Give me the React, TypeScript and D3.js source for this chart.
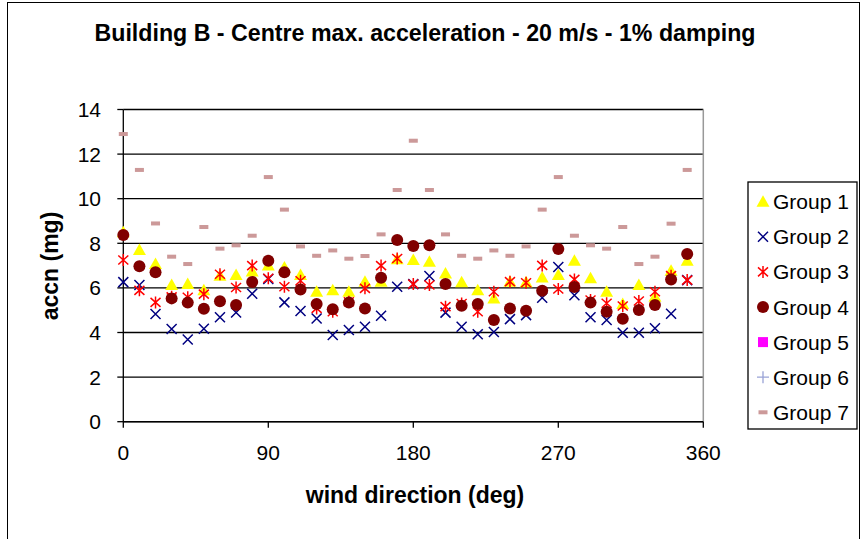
import React from "react";
import * as d3 from "d3";

const directions = [0,10,20,30,40,50,60,70,80,90,100,110,120,130,140,150,160,170,180,190,200,210,220,230,240,250,260,270,280,290,300,310,320,330,340,350];
const group1 = [8.5,7.7,7.07,6.13,6.17,5.9,6.55,6.58,6.73,7.0,6.92,6.58,5.83,5.9,5.83,6.28,6.28,7.28,7.25,7.17,6.65,6.25,5.89,5.53,6.28,6.25,6.47,6.58,7.22,6.43,5.83,5.28,6.13,5.6,6.77,7.22];
const group2 = [6.26,6.13,4.83,4.16,3.69,4.17,4.68,4.9,5.74,6.4,5.35,4.96,4.63,3.89,4.11,4.26,4.75,6.05,6.17,6.53,4.89,4.26,3.92,4.02,4.6,4.78,5.56,6.94,5.67,4.68,4.56,3.99,3.99,4.19,4.84,6.35];
const group3 = [7.25,5.89,5.35,5.6,5.58,5.72,6.61,6.02,7.0,6.43,6.05,6.32,5.08,4.93,5.38,5.98,7.0,7.32,6.17,6.13,5.16,5.3,4.93,5.83,6.28,6.23,7.01,5.95,6.38,5.46,5.31,5.19,5.41,5.83,6.55,6.35];
const group4 = [8.37,6.97,6.7,5.53,5.34,5.07,5.4,5.23,6.26,7.22,6.7,5.93,5.28,5.04,5.34,5.08,6.46,8.15,7.88,7.91,6.17,5.2,5.28,4.56,5.08,4.98,5.87,7.74,6.04,5.34,4.93,4.62,5.01,5.23,6.38,7.52];
const group5: number[] = [];
const group6: number[] = [];
const group7 = [12.9,11.29,8.89,7.4,7.07,8.73,7.76,7.91,8.34,10.97,9.51,7.86,7.44,7.68,7.31,7.43,8.4,10.39,12.6,10.39,8.4,7.44,7.31,7.68,7.44,7.86,9.51,10.97,8.34,7.91,7.76,8.73,7.07,7.4,8.88,11.29];
const groupNames = ["Group 1","Group 2","Group 3","Group 4","Group 5","Group 6","Group 7"];
const xTicks = [0,90,180,270,360];
const yTicks = [0,2,4,6,8,10,12,14];

const title = "Building B - Centre max. acceleration - 20 m/s - 1% damping";
const xTitle = "wind direction (deg)";
const yTitle = "accn (mg)";

const FONT = "'Liberation Sans', Arial, sans-serif";
const markerTypes = ["triangle","x","star","circle","square","plus","dash"];
const colors = ["#FFFF00","#000080","#FF0000","#800000","#FF00FF","#99A3D6","#CC9999"];

function Marker({ type, color, x, y }: { type: string; color: string; x: number; y: number }) {
  switch (type) {
    case "triangle":
      return <path d={`M${x},${y - 6.5}L${x + 6.5},${y + 5}L${x - 6.5},${y + 5}Z`} fill={color} />;
    case "x":
      return <path d={`M${x - 5},${y - 5}L${x + 5},${y + 5}M${x - 5},${y + 5}L${x + 5},${y - 5}`} stroke={color} strokeWidth={1.5} fill="none" />;
    case "star":
      return <path d={`M${x - 5},${y - 4.5}L${x + 5},${y + 4.5}M${x - 5},${y + 4.5}L${x + 5},${y - 4.5}M${x},${y - 6}L${x},${y + 6}`} stroke={color} strokeWidth={1.5} fill="none" />;
    case "circle":
      return <circle cx={x} cy={y} r={6} fill={color} />;
    case "square":
      return <rect x={x - 5} y={y - 5} width={10} height={10} fill={color} />;
    case "plus":
      return <path d={`M${x - 6},${y}L${x + 6},${y}M${x},${y - 6}L${x},${y + 6}`} stroke={color} strokeWidth={1.3} fill="none" />;
    case "dash":
      return <rect x={x - 4.5} y={y - 2} width={9} height={4} fill={color} />;
    default:
      return null;
  }
}

export default function App() {
  const left = 123.3, right = 703.3, top = 109.5, bottom = 421.7;
  const x = d3.scaleLinear().domain([0, 360]).range([left, right]);
  const y = d3.scaleLinear().domain([0, 14]).range([bottom, top]);
  const groups = [group1, group2, group3, group4, group5, group6, group7];
  const legendX = 748, legendY = 182, legendW = 109, legendH = 247;
  const legendItemY = (i: number) => 201.7 + i * 35.1;

  return (
    <svg width={866} height={539} style={{ position: "absolute", left: 0, top: 0, background: "#fff" }} fontFamily={FONT}>
      <rect x={0} y={0} width={866} height={539} fill="#fff" />
      <rect x={7.5} y={2.5} width={852} height={540} fill="none" stroke="#000" strokeWidth={1} />
      <text x={425} y={41} textAnchor="middle" fontSize={23.2} fontWeight="bold">{title}</text>

      {/* gridlines */}
      {yTicks.map(t => (
        <line key={"g" + t} x1={left} x2={right} y1={y(t)} y2={y(t)} stroke="#000" strokeWidth={1.3} />
      ))}
      <line x1={right} x2={right} y1={top} y2={bottom} stroke="#999" strokeWidth={1.5} />
      <line x1={left} x2={left} y1={top} y2={bottom} stroke="#000" strokeWidth={1.3} />
      <line x1={left} x2={right} y1={bottom} y2={bottom} stroke="#000" strokeWidth={1.5} />

      {yTicks.map(t => (
        <g key={"yt" + t}>
          <line x1={left - 6} x2={left} y1={y(t)} y2={y(t)} stroke="#000" strokeWidth={1.3} />
          <text x={101} y={y(t)} dy="0.36em" textAnchor="end" fontSize={21}>{t}</text>
        </g>
      ))}
      {xTicks.map(t => (
        <g key={"xt" + t}>
          <line x1={x(t)} x2={x(t)} y1={bottom} y2={bottom + 6} stroke="#000" strokeWidth={1.3} />
          <text x={x(t)} y={452} dy="0.36em" textAnchor="middle" fontSize={21}>{t}</text>
        </g>
      ))}

      <text x={415} y={495} dy="0.36em" textAnchor="middle" fontSize={23} fontWeight="bold">{xTitle}</text>
      <text transform={`translate(50,266) rotate(-90)`} dy="0.36em" textAnchor="middle" fontSize={23} fontWeight="bold">{yTitle}</text>

      {groups.map((vals, gi) => (
        <g key={"s" + gi}>
          {vals.map((v, i) => (
            <Marker key={i} type={markerTypes[gi]} color={colors[gi]} x={x(directions[i])} y={y(v)} />
          ))}
        </g>
      ))}

      <rect x={legendX} y={legendY} width={legendW} height={legendH} fill="#fff" stroke="#000" strokeWidth={1.3} />
      {groupNames.map((name, i) => (
        <g key={"l" + i}>
          <Marker type={markerTypes[i]} color={colors[i]} x={763} y={legendItemY(i)} />
          <text x={773} y={legendItemY(i)} dy="0.36em" fontSize={21}>{name}</text>
        </g>
      ))}
    </svg>
  );
}
